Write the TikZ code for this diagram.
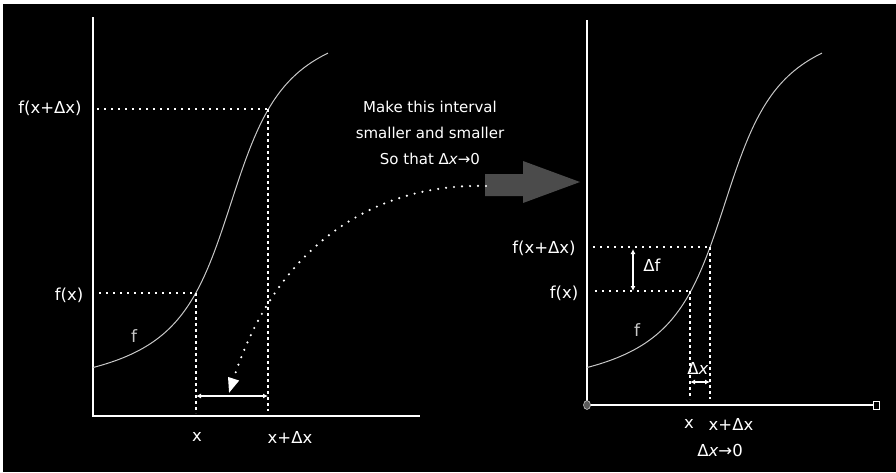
\documentclass[tikz,border=0pt]{standalone}
\usepackage{fontspec}
\setmainfont{DejaVu Sans}
\usetikzlibrary{arrows.meta,shapes.geometric}
\definecolor{curvegray}{RGB}{200,200,200}
\definecolor{bigarrow}{RGB}{75,75,75}
\definecolor{dotgray}{RGB}{90,90,90}
\begin{document}
\begin{tikzpicture}[x=1pt,y=-1pt,
  axis/.style={white, line width=1.4pt},
  curvestyle/.style={draw=curvegray, line width=1pt},
  hdots/.style={white, line width=2pt, dash pattern=on 2pt off 5pt},
  vdots/.style={white, line width=2.3pt, dash pattern=on 3pt off 3pt},
  lbl/.style={text=white, font=\fontsize{16.5}{18}\selectfont, inner sep=0pt},
  flbl/.style={text=curvegray, font=\fontsize{17}{18}\selectfont, inner sep=0pt},
  dbl/.style={white, line width=1.2pt, {Latex[length=5pt,width=5pt]}-{Latex[length=5pt,width=5pt]}},
  curvearrow/.style={white, line width=2.4pt, line cap=round, dash pattern=on 0pt off 8pt,
     -{Triangle[length=15pt,width=11pt]}},
]
\useasboundingbox (0,0) rectangle (896,472);
\fill[white] (0,0) rectangle (896,472);
\fill[black] (3,4) rectangle (896,472);

% ---------- left panel ----------
\coordinate (ly0) at (93,17);
\coordinate (lo) at (93,416);
\coordinate (lx1) at (420,416);
\draw[axis] (ly0) -- (lo) -- (lx1);

\draw[curvestyle] plot[domain=93:328, samples=90] (\x, {203 - 129*rad(atan((\x-231)/42))});

\coordinate (lA) at (196,293);
\coordinate (lB) at (268,109);
\coordinate (lAh) at (99,293);
\coordinate (lBh) at (97,109);
\coordinate (lAv) at (196,413);
\coordinate (lBv) at (268,411);
\draw[hdots] (lAh) -- (lA);
\draw[hdots] (lBh) -- (lB);
\draw[vdots] (lA) -- (lAv);
\draw[vdots] (lB) -- (lBv);

\coordinate (lD1) at (196,396);
\coordinate (lD2) at (268,396);
\draw[dbl] (lD1) -- (lD2);

\node[lbl] (lfB) at (50,108) {f(x+Δx)};
\node[lbl] (lfA) at (69,295) {f(x)};
\node[flbl] (lf) at (134,336) {f};
\node[lbl] (lx) at (197,437) {x};
\node[lbl] (lxd) at (290,437) {x+Δx};

% ---------- middle ----------
\node[text=white, font=\fontsize{15}{26}\selectfont, align=center, inner sep=0pt] (note) at (430,133)
  {Make this interval\\ smaller and smaller\\ So that Δ\textit{x}→0};

\fill[bigarrow] (485,174) -- (523,174) -- (523,161) -- (580,182) -- (523,203) -- (523,196) -- (485,196) -- cycle;

\coordinate (cs) at (486,186);
\coordinate (ce) at (229,393);
\draw[curvearrow] (cs) .. controls (370,183) and (275,250) .. (ce);

% ---------- right panel ----------
\coordinate (ry0) at (587,20);
\coordinate (ro) at (587,405);
\coordinate (rx1) at (873,405);
\draw[axis] (ry0) -- (ro) -- (rx1);

\draw[curvestyle, xshift=494pt] plot[domain=93:328, samples=90] (\x, {203 - 129*rad(atan((\x-231)/42))});

\coordinate (rA) at (690,291);
\coordinate (rB) at (710,247);
\coordinate (rAh) at (595,291);
\coordinate (rBh) at (593,247);
\coordinate (rAv) at (690,399);
\coordinate (rBv) at (710,399);
\draw[hdots] (rAh) -- (rA);
\draw[hdots] (rBh) -- (rB);
\draw[vdots] (rA) -- (rAv);
\draw[vdots] (rB) -- (rBv);

\coordinate (rF1) at (633,249);
\coordinate (rF2) at (633,291);
\draw[dbl] (rF1) -- (rF2);
\coordinate (rX1) at (690,382);
\coordinate (rX2) at (710,382);
\draw[dbl] (rX1) -- (rX2);

\node[fill=dotgray, draw=curvegray, line width=0.6pt, ellipse, minimum width=7pt, minimum height=9pt, inner sep=0pt] (rorig) at (587,405) {};
\node[fill=black, draw=white, line width=1pt, minimum width=6pt, minimum height=8pt, inner sep=0pt] (rend) at (876,405) {};

\node[lbl] (rfB) at (544,248) {f(x+Δx)};
\node[lbl] (rfA) at (564,293) {f(x)};
\node[lbl] (rdf) at (652,265) {Δf};
\node[flbl] (rf) at (637,330) {f};
\node[lbl] (rdx) at (698,368) {Δ\textit{x}};
\node[lbl] (rx) at (689,424) {x};
\node[lbl] (rxd) at (731,424) {x+Δx};
\node[lbl] (rlim) at (720,450) {Δ\textit{x}→0};
\end{tikzpicture}
\end{document}
